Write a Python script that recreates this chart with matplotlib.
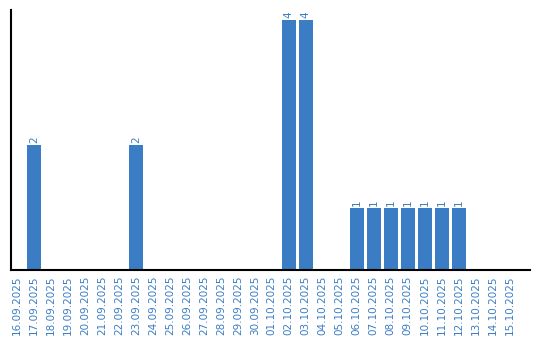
import matplotlib
matplotlib.use("Agg")
import matplotlib.pyplot as plt

dates = ['16.09.2025', '17.09.2025', '18.09.2025', '19.09.2025', '20.09.2025',
         '21.09.2025', '22.09.2025', '23.09.2025', '24.09.2025', '25.09.2025',
         '26.09.2025', '27.09.2025', '28.09.2025', '29.09.2025', '30.09.2025',
         '01.10.2025', '02.10.2025', '03.10.2025', '04.10.2025', '05.10.2025',
         '06.10.2025', '07.10.2025', '08.10.2025', '09.10.2025', '10.10.2025',
         '11.10.2025', '12.10.2025', '13.10.2025', '14.10.2025', '15.10.2025']
counts = [0, 2, 0, 0, 0, 0, 0, 2, 0, 0, 0, 0, 0, 0, 0,
          0, 4, 4, 0, 0, 1, 1, 1, 1, 1, 1, 1, 0, 0, 0]

blue = '#3b7dc4'

fig = plt.figure(figsize=(5.4, 3.4), dpi=100)
ax = fig.add_axes([11/540, 70/340, 519/540, 260/340])

x = range(len(dates))
bars = ax.bar(x, counts, width=14/17, color=blue)
for i, v in enumerate(counts):
    if v > 0:
        ax.text(i, v + 0.03, str(v), rotation=90, ha='center', va='bottom',
                color=blue, fontsize=7.5)

ax.set_xlim(-0.35, 30.2)
ax.set_ylim(0, 4.16)
ax.set_xticks(list(x))
ax.set_xticklabels(dates, rotation=90, color=blue, fontsize=7.5)
ax.tick_params(axis='x', length=0, pad=4)
ax.set_yticks([])
ax.spines['top'].set_visible(False)
ax.spines['right'].set_visible(False)
ax.spines['left'].set_linewidth(1.5)
ax.spines['bottom'].set_linewidth(1.5)

fig.savefig('out.png', dpi=100)
